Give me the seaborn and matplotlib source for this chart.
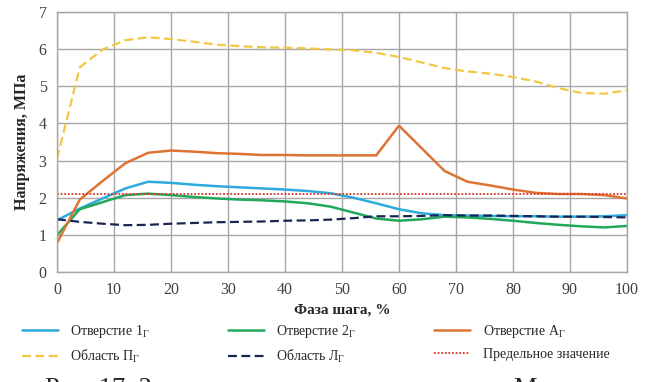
import numpy as np
import pandas as pd
import matplotlib
matplotlib.use('Agg')
import matplotlib.pyplot as plt
import seaborn as sns

# --- data ---
phase = [0, 4, 8, 12, 16, 20, 24, 28, 32, 36, 40, 44, 48, 52, 56, 60, 64, 68, 72, 76, 80, 84, 88, 92, 96, 100]

hole_1 = [1.39, 1.71, 1.98, 2.25, 2.43, 2.40, 2.35, 2.31, 2.28, 2.25, 2.22, 2.18, 2.12, 2.00, 1.85, 1.69, 1.58, 1.53, 1.52, 1.51, 1.50, 1.50, 1.49, 1.49, 1.50, 1.53]
hole_2 = [0.99, 1.69, 1.88, 2.07, 2.11, 2.07, 2.02, 1.98, 1.95, 1.93, 1.90, 1.85, 1.76, 1.60, 1.44, 1.38, 1.42, 1.49, 1.47, 1.43, 1.38, 1.32, 1.27, 1.23, 1.20, 1.24]
hole_a = [0.78, 1.95, 2.45, 2.93, 3.21, 3.27, 3.24, 3.20, 3.18, 3.15, 3.15, 3.14, 3.14, 3.14, 3.14, 3.94, 3.33, 2.72, 2.43, 2.33, 2.22, 2.13, 2.10, 2.10, 2.07, 1.98]
area_p = [3.05, 5.51, 5.99, 6.24, 6.32, 6.27, 6.20, 6.12, 6.08, 6.05, 6.04, 6.02, 5.99, 5.97, 5.90, 5.79, 5.64, 5.49, 5.40, 5.34, 5.25, 5.13, 4.95, 4.82, 4.80, 4.89]
area_l = [1.42, 1.35, 1.30, 1.26, 1.27, 1.30, 1.32, 1.34, 1.35, 1.36, 1.38, 1.39, 1.41, 1.45, 1.50, 1.50, 1.51, 1.53, 1.52, 1.52, 1.51, 1.50, 1.49, 1.49, 1.48, 1.47]
limit_value = 2.1

x_ticks = list(range(0, 101, 10))
y_ticks = list(range(0, 8))

sns.set_style('white')
plt.rcParams['font.family'] = ['Liberation Serif', 'DejaVu Serif']
plt.rcParams['mathtext.fontset'] = 'custom'
plt.rcParams['mathtext.rm'] = 'Liberation Serif'

fig = plt.figure(figsize=(6.51, 3.82), dpi=100)
ax = fig.add_axes([57 / 651, 110 / 382, 570 / 651, 260 / 382])

series = [
    ('Отверстие 1$_\\mathrm{Г}$', hole_1, '#2eaadc', None, 1.8),
    ('Область П$_\\mathrm{Г}$', area_p, '#f2c744', (4, 2), 1.6),
    ('Отверстие 2$_\\mathrm{Г}$', hole_2, '#22a85a', None, 1.8),
    ('Область Л$_\\mathrm{Г}$', area_l, '#1b2552', (4, 2), 1.6),
    ('Отверстие А$_\\mathrm{Г}$', hole_a, '#dd7433', None, 1.8),
]

for label, vals, color, dash, lw in series:
    df = pd.DataFrame({'phase': phase, 'value': vals})
    sns.lineplot(data=df, x='phase', y='value', ax=ax, color=color, lw=lw, label=label)
    if dash is not None:
        ax.lines[-1].set_dashes(dash)

lim_df = pd.DataFrame({'phase': [0, 100], 'value': [limit_value, limit_value]})
sns.lineplot(data=lim_df, x='phase', y='value', ax=ax, color='#d9352b', lw=1.3, label='Предельное значение')
ax.lines[-1].set_dashes((1, 1))

ax.set_xlim(0, 100)
ax.set_ylim(0, 7)
ax.set_xticks(x_ticks)
ax.set_yticks(y_ticks)
ax.grid(True, color='#a6a6a6', lw=1)
for sp in ax.spines.values():
    sp.set_color('#a6a6a6')
    sp.set_linewidth(1)
ax.tick_params(axis='both', labelsize=11.5, length=4, color='#a6a6a6', labelcolor='#404040')
ax.set_xlabel('Фаза шага, %', fontsize=11, fontweight='bold', labelpad=4)
ax.set_ylabel('Напряжения, МПа', fontsize=11.5, fontweight='bold', labelpad=6)

handles, labels = ax.get_legend_handles_labels()
ax.get_legend().remove()
fig.legend(handles, labels, ncol=3,
           loc='lower left', bbox_to_anchor=(16 / 651, 0.03, 0.92, 0.15), mode='expand',
           frameon=False, fontsize=10, handlelength=2.6, handletextpad=0.9,
           labelspacing=0.55, borderaxespad=0)

fig.text(45 / 651, -13 / 382, 'Рис. 17. З', fontsize=19, va='baseline', ha='left')
fig.text(513 / 651, -13 / 382, 'М', fontsize=19, va='baseline', ha='left')

plt.savefig('out.png', dpi=100)
